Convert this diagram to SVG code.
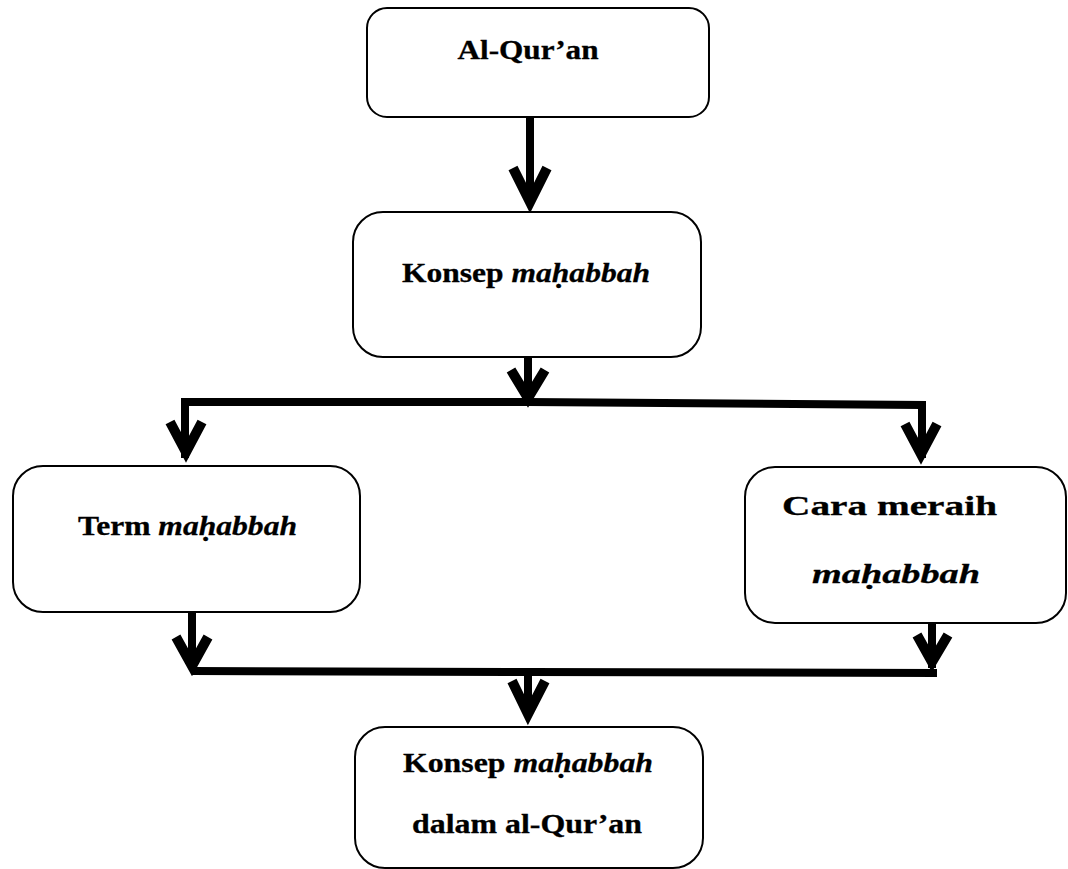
<svg xmlns="http://www.w3.org/2000/svg" width="1068" height="869" viewBox="0 0 1068 869">
<style>
.box{fill:#fff;stroke:#000;stroke-width:2}
.t{font-family:'Liberation Serif','Times New Roman',Times,serif;font-weight:bold;font-size:27.5px;fill:#000;stroke:#000;stroke-width:0.3;text-anchor:middle}
.i{font-style:italic}
.ln{fill:none;stroke:#000;stroke-width:8}
.hd{fill:none;stroke:#000;stroke-width:10;stroke-linejoin:miter;stroke-miterlimit:10}
</style>
<rect width="1068" height="869" fill="#fff"/>
<g id="connectors">
<line class="ln" x1="530" y1="117" x2="530" y2="200"/>
<polyline class="hd" points="513,168 530,202 547,168"/>
<line class="ln" x1="528" y1="357" x2="528" y2="396"/>
<polyline class="hd" points="511,370 528,398 545,370"/>
<polyline class="ln" points="185,458 185,402 528,402 922,405 922,458"/>
<polyline class="hd" points="170,422 186,452 202,422"/>
<polyline class="hd" points="905,424 921,454 937,424"/>
<line class="ln" x1="192" y1="612" x2="192" y2="668"/>
<polyline class="hd" points="176,637 192,666 208,637"/>
<line class="ln" x1="932" y1="623" x2="932" y2="668"/>
<polyline class="hd" points="917,635 932,662 948,635"/>
<polyline class="ln" points="192,671 528,672 937,673"/>
<line class="ln" x1="528" y1="672" x2="528" y2="712"/>
<polyline class="hd" points="512,681 528,714 545,681"/>
</g>
<g id="n1">
<rect class="box" x="367" y="8" width="342" height="109" rx="20"/>
<text class="t" x="528" y="59" textLength="141" lengthAdjust="spacingAndGlyphs">Al-Qur’an</text>
</g>
<g id="n2">
<rect class="box" x="353" y="212" width="348" height="145" rx="30"/>
<text class="t" x="526" y="282" textLength="248" lengthAdjust="spacingAndGlyphs">Konsep <tspan class="i">maḥabbah</tspan></text>
</g>
<g id="n3">
<rect class="box" x="13" y="466" width="347" height="146" rx="30"/>
<text class="t" x="187.5" y="535" textLength="219" lengthAdjust="spacingAndGlyphs">Term <tspan class="i">maḥabbah</tspan></text>
</g>
<g id="n4">
<rect class="box" x="745" y="467" width="321" height="156" rx="30"/>
<text class="t" x="889.5" y="515" textLength="215" lengthAdjust="spacingAndGlyphs">Cara meraih</text>
<text class="t i" x="896" y="583" textLength="168" lengthAdjust="spacingAndGlyphs">maḥabbah</text>
</g>
<g id="n5">
<rect class="box" x="355" y="727" width="348" height="141" rx="30"/>
<text class="t" x="528" y="772" textLength="250" lengthAdjust="spacingAndGlyphs">Konsep <tspan class="i">maḥabbah</tspan></text>
<text class="t" x="527" y="833" textLength="230" lengthAdjust="spacingAndGlyphs">dalam al-Qur’an</text>
</g>
</svg>
